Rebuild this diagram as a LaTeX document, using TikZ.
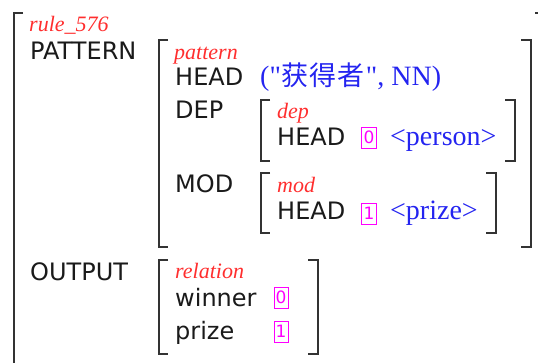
\documentclass[tikz,border=0pt]{standalone}
\usepackage{fontspec}
\setmainfont{Liberation Serif}[Ligatures=TeXOff]
\newfontfamily\sansf{DejaVu Sans}
\newfontfamily\cjkf{Noto Sans CJK SC}
\definecolor{bk}{HTML}{333333}
\definecolor{ink}{HTML}{1A1A1A}
\definecolor{tred}{HTML}{FF2E2E}
\definecolor{tblue}{HTML}{2424F0}
\definecolor{tmag}{HTML}{FF00FF}
\tikzset{
 lbl/.style={anchor=base west, inner sep=0pt, font=\sansf\fontsize{24}{28}\selectfont, text=ink},
 typ/.style={anchor=base west, inner sep=0pt, font=\itshape\fontsize{22}{26}\selectfont, text=tred},
 val/.style={anchor=base west, inner sep=0pt, font=\fontsize{28}{30}\selectfont, text=tblue},
 idx/.style={draw=tmag, line width=0.9pt, minimum width=15pt, minimum height=21pt, inner sep=0pt, font=\sansf\fontsize{17}{17}\selectfont, text=tmag},
 brk/.style={line width=1.7pt, draw=bk}
}
\begin{document}
\begin{tikzpicture}[x=1pt,y=-1pt]
\useasboundingbox (0,0) rectangle (538,363);
% brackets
\draw[brk] (23,13) -- (14,13) -- (14,375);
\draw[brk] (535,13) -- (540,13) -- (540,375);
\draw[brk] (168,40) -- (159,40) -- (159,247) -- (168,247);
\draw[brk] (521,40) -- (531,40) -- (531,247) -- (521,247);
\draw[brk] (270,100) -- (261,100) -- (261,161) -- (270,161);
\draw[brk] (505,100) -- (515,100) -- (515,161) -- (505,161);
\draw[brk] (270,173) -- (261,173) -- (261,233) -- (270,233);
\draw[brk] (486,173) -- (496,173) -- (496,233) -- (486,233);
\draw[brk] (168,260) -- (159,260) -- (159,354) -- (168,354);
\draw[brk] (308,260) -- (318,260) -- (318,354) -- (308,354);
% texts
\node[typ] (rule) at (29,32) {rule\_576};
\node[lbl] (pat) at (30,60) {PATTERN};
\node[typ] (patT) at (174,60) {pattern};
\node[lbl] (h1) at (175,86) {HEAD};
\node[val] (v1) at (260,86) {("{\cjkf\fontsize{27}{28}\selectfont\hspace{1pt}获\hspace{1pt}得\hspace{1pt}者\hspace{1pt}}", NN)};
\node[lbl] (dep) at (175,119) {DEP};
\node[typ] (depT) at (277,119) {dep};
\node[lbl] (h2) at (277,146) {HEAD};
\node[idx] (i0) at (369,137.5) {0};
\node[val] (v2) at (390,146) {<person>};
\node[lbl] (mod) at (175,193) {MOD};
\node[typ] (modT) at (277,193) {mod};
\node[lbl] (h3) at (277,220) {HEAD};
\node[idx] (i1) at (369,213.5) {1};
\node[val] (v3) at (390,220) {<prize>};
\node[lbl] (out) at (30,280) {OUTPUT};
\node[typ] (relT) at (175,279) {relation};
\node[lbl] (win) at (175,307) {winner};
\node[idx, minimum width=14pt] (i2) at (281,297.5) {0};
\node[lbl] (prz) at (175,339) {prize};
\node[idx, minimum width=14pt] (i3) at (281,331.5) {1};
\end{tikzpicture}
\end{document}
